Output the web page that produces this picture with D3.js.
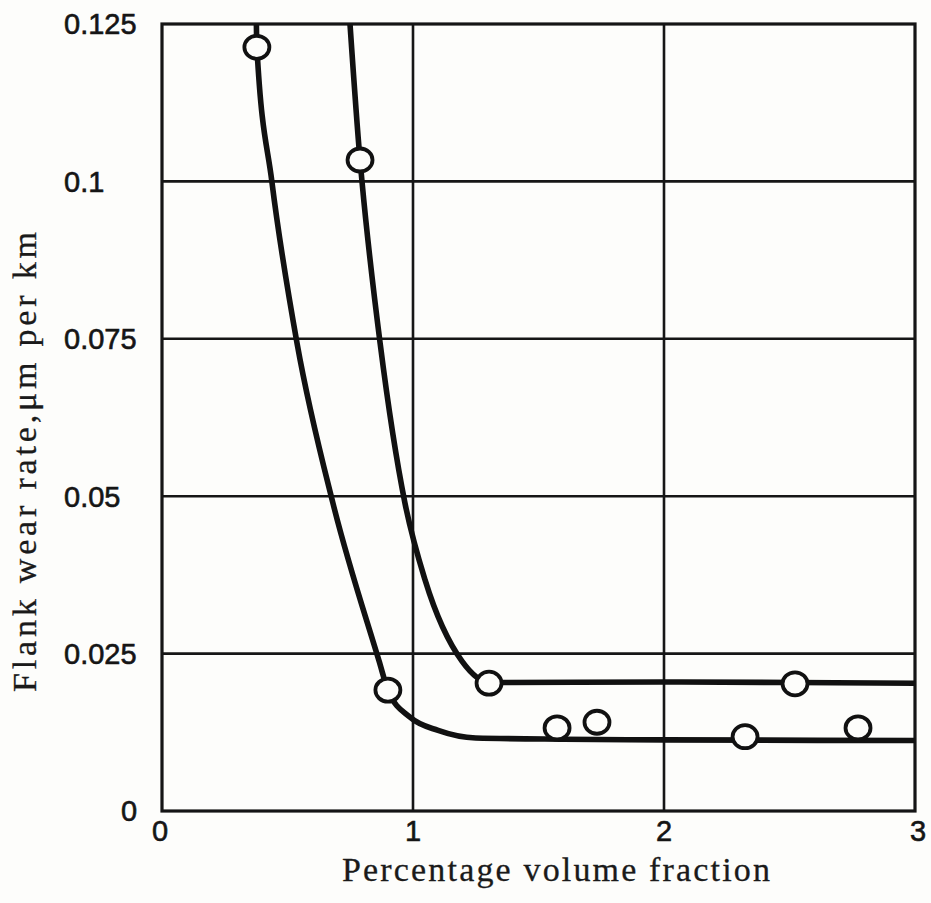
<!DOCTYPE html>
<html>
<head>
<meta charset="utf-8">
<script src="https://cdn.jsdelivr.net/npm/d3@7"></script>
<style>
  body { margin: 0; background: #fdfdfb; }
  svg { display: block; }
  .tick-label { font-family: "Liberation Sans", Arial, sans-serif; font-size: 29px; fill: #151515; stroke: #151515; stroke-width: 0.6px; }
  .axis-title { font-family: "Liberation Serif", "Times New Roman", serif; font-size: 34px; fill: #1a1a1a; stroke: #1a1a1a; stroke-width: 0.3px; }
</style>
</head>
<body>
<script>
(function() {
  "use strict";
  // values
  const X_TICKS = [0, 1, 2, 3],
        Y_TICKS = [0, 0.025, 0.05, 0.075, 0.1, 0.125],
        Y_TICK_LABELS = ["0", "0.025", "0.05", "0.075", "0.1", "0.125"];

  // fitted curves (drawn by hand in the original)
  const CURVE_A_X = [0.376, 0.378, 0.438, 0.538, 0.681, 0.865, 0.900, 0.988, 1.1, 1.25, 1.6, 2.0, 3.0],
        CURVE_A_Y = [0.125, 0.1213, 0.0999, 0.0743, 0.0489, 0.0238, 0.0192, 0.0149, 0.0128, 0.0116, 0.0114, 0.0113, 0.0112];
  const CURVE_B_X = [0.749, 0.789, 0.797, 0.869, 0.968, 1.048, 1.195, 1.307, 2.0, 2.52, 3.0],
        CURVE_B_Y = [0.125, 0.1034, 0.0999, 0.0743, 0.0489, 0.0367, 0.0238, 0.0204, 0.0205, 0.0204, 0.0203];

  // measured points
  const POINTS_A_X = [0.378, 0.900, 1.574, 1.733, 2.323, 2.773],
        POINTS_A_Y = [0.1213, 0.0192, 0.0132, 0.0141, 0.0118, 0.0132];
  const POINTS_B_X = [0.789, 1.303, 2.522],
        POINTS_B_Y = [0.1034, 0.0203, 0.0202];

  const W = 931, H = 903;
  const left = 162, right = 915, top = 24, bottom = 811;

  const x = d3.scaleLinear().domain([0, 3]).range([left, right]);
  const y = d3.scaleLinear().domain([0, 0.125]).range([bottom, top]);

  const svg = d3.select("body").append("svg").attr("width", W).attr("height", H);

  svg.append("defs").append("clipPath").attr("id", "plot")
    .append("rect").attr("x", left).attr("y", top)
    .attr("width", right - left).attr("height", bottom - top);

  // grid
  const grid = svg.append("g").attr("stroke", "#161616").attr("stroke-width", 2.6);
  grid.selectAll("line.v").data(X_TICKS.slice(1, -1)).enter().append("line")
    .attr("x1", d => x(d)).attr("x2", d => x(d)).attr("y1", top).attr("y2", bottom);
  grid.selectAll("line.h").data(Y_TICKS.slice(1, -1)).enter().append("line")
    .attr("x1", left).attr("x2", right).attr("y1", d => y(d)).attr("y2", d => y(d));

  // frame
  svg.append("rect").attr("x", left).attr("y", top)
    .attr("width", right - left).attr("height", bottom - top)
    .attr("fill", "none").attr("stroke", "#151515").attr("stroke-width", 3.2);

  // curves
  const line = d3.line().x(d => x(d[0])).y(d => y(d[1])).curve(d3.curveMonotoneX);
  const curves = [
    d3.zip(CURVE_A_X, CURVE_A_Y),
    d3.zip(CURVE_B_X, CURVE_B_Y)
  ];
  svg.append("g").attr("clip-path", "url(#plot)")
    .selectAll("path").data(curves).enter().append("path")
    .attr("d", line).attr("fill", "none")
    .attr("stroke", "#111").attr("stroke-width", 5.6)
    .attr("stroke-linejoin", "round").attr("stroke-linecap", "round");

  // points
  const pts = d3.zip(POINTS_A_X, POINTS_A_Y).concat(d3.zip(POINTS_B_X, POINTS_B_Y));
  svg.append("g").selectAll("ellipse").data(pts).enter().append("ellipse")
    .attr("cx", d => x(d[0])).attr("cy", d => y(d[1]))
    .attr("rx", 12.5).attr("ry", 11.5)
    .attr("fill", "#fdfdfb").attr("stroke", "#111").attr("stroke-width", 3.8);

  // y tick labels
  svg.append("g").selectAll("text").data(Y_TICKS).enter().append("text")
    .attr("class", "tick-label")
    .attr("x", d => d === 0 ? 121 : 64)
    .attr("y", d => y(d))
    .attr("dy", "0.36em")
    .text((d, i) => Y_TICK_LABELS[i]);

  // x tick labels
  svg.append("g").selectAll("text").data(X_TICKS).enter().append("text")
    .attr("class", "tick-label")
    .attr("x", d => x(d) + (d === 0 ? -2 : (d === 3 ? 3 : 0)))
    .attr("y", 831).attr("dy", "0.36em")
    .attr("text-anchor", "middle")
    .text(d => d);

  // axis titles
  svg.append("text").attr("class", "axis-title")
    .attr("x", 556).attr("y", 881).attr("text-anchor", "middle")
    .attr("textLength", 428).attr("lengthAdjust", "spacing")
    .text("Percentage volume fraction");

  svg.append("text").attr("class", "axis-title")
    .attr("transform", "translate(36,462) rotate(-90)")
    .attr("text-anchor", "middle")
    .attr("textLength", 460).attr("lengthAdjust", "spacing")
    .text("Flank wear rate,\u03bcm per km");
}());
</script>
</body>
</html>
